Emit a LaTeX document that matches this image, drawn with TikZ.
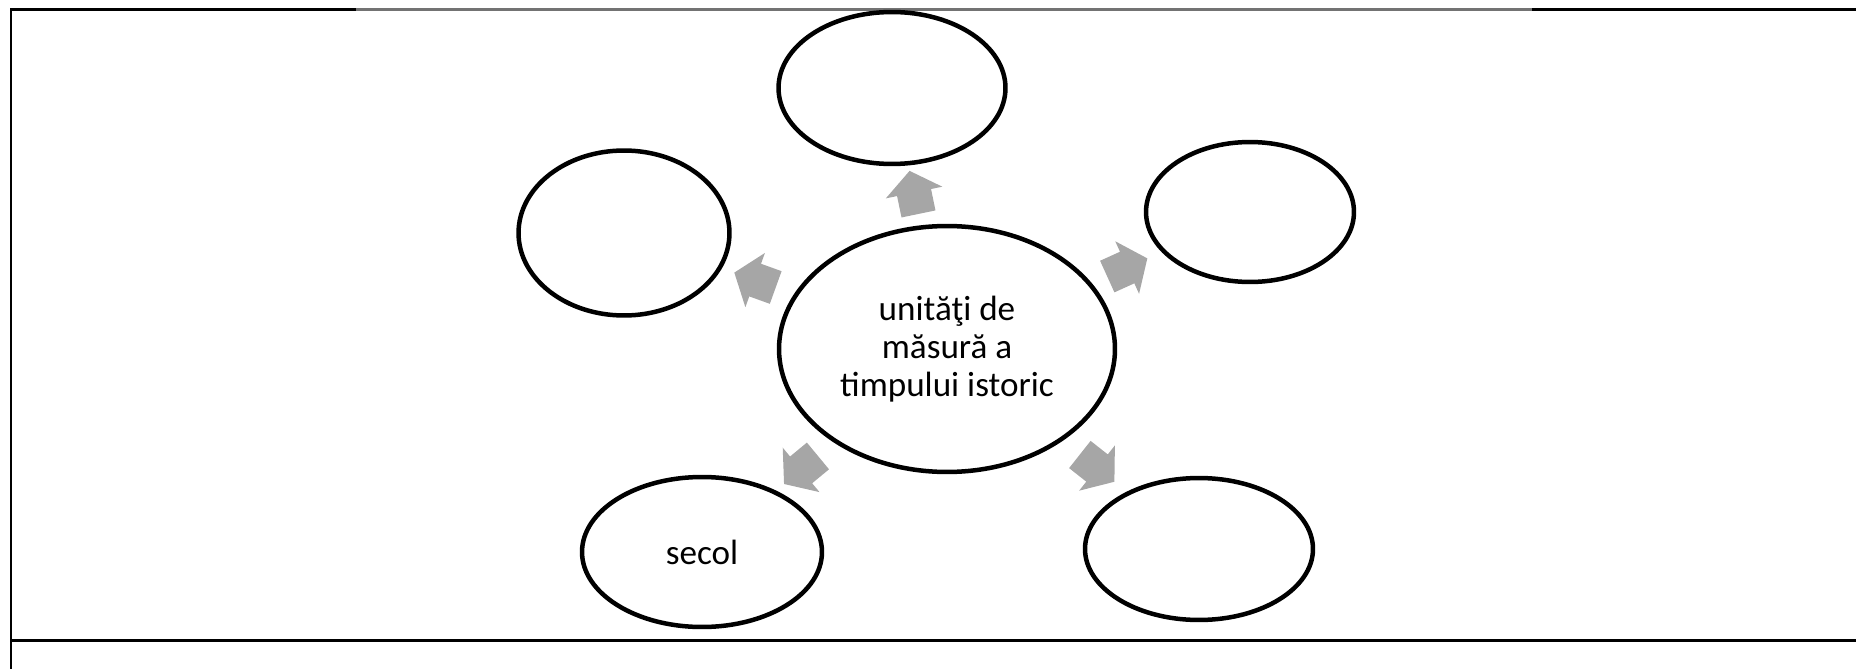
\documentclass[tikz,border=0pt]{standalone}
\usepackage{fontspec}
\setmainfont{Carlito}
\usetikzlibrary{shapes.geometric,shapes.arrows,calc}
\definecolor{gri}{RGB}{166,166,166}

\begin{document}
\begin{tikzpicture}[x=0.02cm,y=-0.02cm,
	cerc/.style={draw,ellipse,line width=0.09cm,inner sep=0pt,align=center,font=\fontsize{20}{21.5}\selectfont},
	sageata/.style={single arrow,fill=gri,draw=none,inner xsep=0pt,inner ysep=0.34cm,minimum height=0.88cm,single arrow head extend=0.23cm,single arrow tip angle=105}]
	\useasboundingbox (0,0) rectangle (1856,669);
%	chenarul
	\draw[line width=0.06cm] (11,669) -- (11,10) -- (356,10);
	\draw[line width=0.06cm,black!55] (356,10) -- (1532,10);
	\draw[line width=0.06cm] (1532,10) -- (1856,10);
	\draw[line width=0.06cm] (11,640) -- (1856,640);
%	elipsele
	\node[cerc,minimum width=6.72cm,minimum height=4.92cm] (centru) at (947,349) {unităţi de\\măsură a\\timpului istoric};
	\node[cerc,minimum width=4.54cm,minimum height=3.04cm] (sus) at (892,88) {};
	\node[cerc,minimum width=4.22cm,minimum height=3.3cm] (stsus) at (624,233) {};
	\node[cerc,minimum width=4.16cm,minimum height=2.8cm] (drsus) at (1250,212) {};
	\node[cerc,minimum width=4.8cm,minimum height=3cm] (stjos) at (702,552) {secol};
	\node[cerc,minimum width=4.56cm,minimum height=2.84cm] (drjos) at (1199,549) {};
%	sagetile
	\foreach \t/\a in {sus/101.7,stsus/160.2,drsus/24.4,stjos/219.6,drjos/-38.3}{
		\node[sageata,rotate=\a] (s-\t) at ($(centru)!0.575!(\t)$) {};}
\end{tikzpicture}
\end{document}
